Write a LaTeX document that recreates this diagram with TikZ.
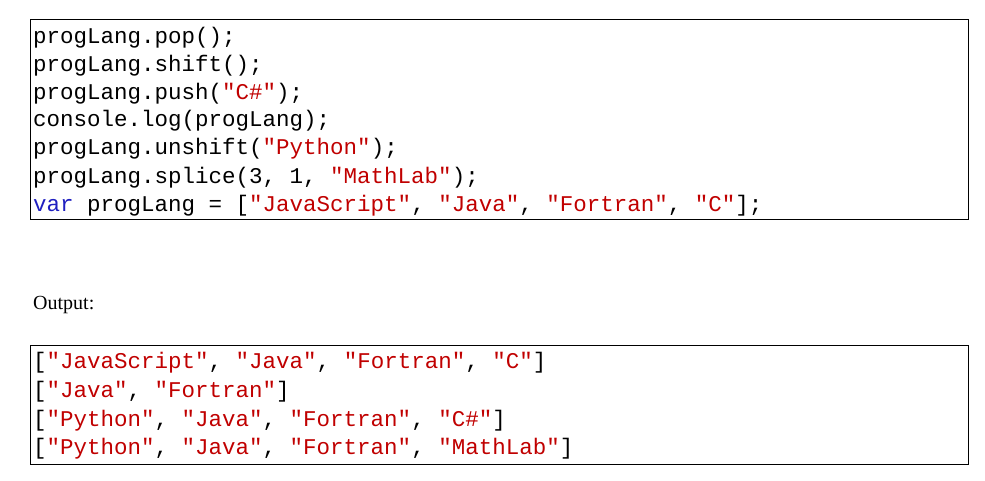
\documentclass[tikz,border=0pt]{standalone}
\usepackage{fontspec}
\setmainfont{Liberation Serif}
\setmonofont{Liberation Mono}
\definecolor{strc}{HTML}{C00000}
\definecolor{kwc}{HTML}{1F1FC0}
\newcommand{\Sv}[1]{\textcolor{strc}{#1}}
\begin{document}
\begin{tikzpicture}[x=1pt,y=-1pt]
\tikzset{codeline/.style={anchor=west,inner sep=0pt,font=\fontsize{22.5}{24}\ttfamily},
 boxframe/.style={draw=black,line width=0.8pt}}
\useasboundingbox (0,0) rectangle (985,481);
\draw[boxframe] (30,19) rectangle (968,219);
\node[codeline] (c1) at (33,38) {progLang.pop();};
\node[codeline] (c2) at (33,66) {progLang.shift();};
\node[codeline] (c3) at (33,94) {progLang.push(\Sv{"C\#"});};
\node[codeline] (c4) at (33,121) {console.log(progLang);};
\node[codeline] (c5) at (33,149) {progLang.unshift(\Sv{"Python"});};
\node[codeline] (c6) at (33,178) {progLang.splice(3, 1, \Sv{"MathLab"});};
\node[codeline] (c7) at (33,206) {\textcolor{kwc}{var} progLang = [\Sv{"JavaScript"}, \Sv{"Java"}, \Sv{"Fortran"}, \Sv{"C"}];};
\node[anchor=west,inner sep=0pt,font=\fontsize{20}{22}\selectfont] (out) at (33,305) {Output:};
\draw[boxframe] (30,345) rectangle (968,464);
\node[codeline] (o1) at (33,363) {[\Sv{"JavaScript"}, \Sv{"Java"}, \Sv{"Fortran"}, \Sv{"C"}]};
\node[codeline] (o2) at (33,392) {[\Sv{"Java"}, \Sv{"Fortran"}]};
\node[codeline] (o3) at (33,421) {[\Sv{"Python"}, \Sv{"Java"}, \Sv{"Fortran"}, \Sv{"C\#"}]};
\node[codeline] (o4) at (33,449) {[\Sv{"Python"}, \Sv{"Java"}, \Sv{"Fortran"}, \Sv{"MathLab"}]};
\end{tikzpicture}
\end{document}
